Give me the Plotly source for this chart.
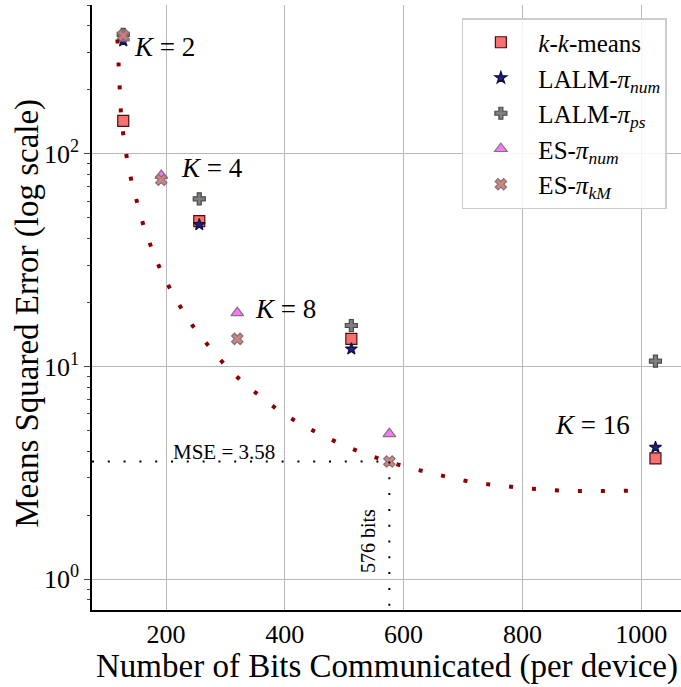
import numpy as np
import plotly.graph_objects as go

# Communication cost (bits per device) for K = 2, 4, 8, 16
bits_kkm = [128, 256, 512, 1024]      # k-k-means and LALM variants
bits_es = [128, 192, 320, 576]        # ES variants

# Mean squared error per method
mse_kkmeans = [143, 48.3, 13.5, 3.70]
mse_lalm_num = [340, 46.5, 12.1, 4.17]
mse_lalm_ps = [365, 61.5, 15.6, 10.6]
mse_es_num = [350, 79.1, 17.9, 4.83]
mse_es_km = [360, 75.5, 13.5, 3.58]

# Trade-off curve (bits vs. MSE)
curve_bits = [118.2, 118.6, 119.1, 120.8, 124.2, 128.7, 134.8, 142.7, 152.3, 163.4,
              176.9, 192.1, 210.1, 230.3, 252.2, 277.0, 302.3, 331.4, 361.8, 393.3,
              427.0, 462.3, 497.7, 534.1, 571.9, 608.9, 644.8, 681.9, 724.0, 764.5,
              804.9, 845.3, 885.8, 926.2, 965.0, 1000.0]
curve_mse = [345, 326, 253, 197, 153, 119, 93.0, 72.5, 56.7, 44.6,
             35.3, 27.9, 22.3, 17.9, 14.5, 12.0, 9.93, 8.32, 7.10, 6.10,
             5.36, 4.76, 4.28, 3.89, 3.59, 3.34, 3.17, 2.99, 2.83, 2.74,
             2.68, 2.63, 2.60, 2.60, 2.60, 2.63]

# Highlighted operating point
ref_bits = 576
ref_mse = 3.58

k_labels = ["<i>K</i> = 2", "<i>K</i> = 4", "<i>K</i> = 8", "<i>K</i> = 16"]
y_tickvals = [1, 10, 100]
y_ticktext = ["10<sup>0</sup>", "10<sup>1</sup>", "10<sup>2</sup>"]
x_tickvals = [200, 400, 600, 800, 1000]

FONT = "Liberation Serif"
XR = [75.4, 1067.0]
YR = [-0.1444, 2.70]

fig = go.Figure()

series = [
    ("<i>k</i>-<i>k</i>-means", bits_kkm, mse_kkmeans, "square", 11,
     "rgba(250,95,95,0.9)", "#4a1010"),
    ("LALM-<i>π</i><sub><i>num</i></sub>", bits_kkm, mse_lalm_num, "star", 9,
     "#1c1c9c", "#101030"),
    ("LALM-<i>π</i><sub><i>ps</i></sub>", bits_kkm, mse_lalm_ps, "cross", 10,
     "rgba(120,120,120,0.95)", "#4a4a4a"),
    ("ES-<i>π</i><sub><i>num</i></sub>", bits_es, mse_es_num, "triangle-up", 11,
     "rgba(238,120,238,0.95)", "#8a6a8a"),
    ("ES-<i>π</i><sub><i>kM</i></sub>", bits_es, mse_es_km, "x", 10,
     "rgba(200,128,128,0.95)", "#8a7070"),
]
for name, xs, ys, sym, size, fill, edge in series:
    fig.add_trace(go.Scatter(
        x=xs, y=ys, mode="markers", name=name,
        marker=dict(symbol=sym, size=size, color=fill,
                    line=dict(color=edge, width=1.2)),
    ))

# dotted trade-off curve
fig.add_trace(go.Scatter(
    x=curve_bits, y=curve_mse, mode="lines", showlegend=False,
    line=dict(color="#8b0000", width=4, dash="4px,19px"),
))

# guide lines to the highlighted point
fig.add_trace(go.Scatter(
    x=[XR[0], ref_bits], y=[ref_mse, ref_mse], mode="lines", showlegend=False,
    line=dict(color="black", width=2, dash="2px,13.8px"),
))
fig.add_trace(go.Scatter(
    x=[ref_bits, ref_bits], y=[ref_mse, 10 ** YR[0]], mode="lines", showlegend=False,
    line=dict(color="black", width=2, dash="2px,13.8px"),
))

ann = []
k_pos = [(142.0, 318), (222.0, 85.5), (346.0, 18.7), (852.0, 5.31)]
for txt, (ax, ay) in zip(k_labels, k_pos):
    ann.append(dict(x=ax, y=np.log10(ay), text=txt, showarrow=False,
                    xanchor="left", yanchor="middle",
                    font=dict(family=FONT, size=27, color="black")))
ann.append(dict(x=208.0, y=np.log10(3.95), text=f"MSE = {ref_mse:.2f}", showarrow=False,
                xanchor="left", yanchor="middle",
                font=dict(family=FONT, size=21, color="black")))
ann.append(dict(x=539.2, y=np.log10(1.52), text=f"{ref_bits} bits", showarrow=False,
                textangle=-90, xanchor="center", yanchor="middle",
                font=dict(family=FONT, size=20, color="black")))
# axis titles
ann.append(dict(xref="paper", yref="paper", x=0.5, y=-0.093,
                text="Number of Bits Communicated (per device)", showarrow=False,
                xanchor="center", yanchor="middle",
                font=dict(family=FONT, size=33, color="black")))
ann.append(dict(xref="paper", yref="paper", x=-0.109, y=0.491,
                text="Means Squared Error (log scale)", showarrow=False, textangle=-90,
                xanchor="center", yanchor="middle",
                font=dict(family=FONT, size=33, color="black")))

minor_vals = [0.8, 0.9] + [m * d for d in (1, 10) for m in range(2, 10)] + [200, 300, 400, 500]

fig.update_layout(
    width=681, height=687, autosize=False,
    margin=dict(l=92, r=0, t=5, b=77, pad=0),
    paper_bgcolor="white", plot_bgcolor="white",
    font=dict(family=FONT, size=26, color="black"),
    annotations=ann,
    legend=dict(
        x=0.976, y=0.9785, xanchor="right", yanchor="top",
        bgcolor="rgba(255,255,255,0.85)", bordercolor="#cccccc", borderwidth=1.5,
        font=dict(family=FONT, size=25, color="black"),
        itemwidth=65, tracegroupgap=0,
    ),
    xaxis=dict(
        range=XR, tickmode="array", tickvals=x_tickvals,
        showgrid=True, gridcolor="#b8b8b8", gridwidth=1.3,
        showline=True, linecolor="black", linewidth=1.5, mirror=False,
        zeroline=False, ticks="", tickfont=dict(family=FONT, size=26),
    ),
    yaxis=dict(
        type="log", range=YR, tickmode="array", tickvals=y_tickvals, ticktext=y_ticktext,
        showgrid=True, gridcolor="#b8b8b8", gridwidth=1.3,
        showline=True, linecolor="black", linewidth=1.5, mirror=False,
        zeroline=False, ticks="outside", ticklen=6, tickwidth=1.3,
        tickfont=dict(family=FONT, size=26),
        minor=dict(tickmode="array", tickvals=minor_vals, ticks="outside",
                   ticklen=3.5, tickwidth=1, showgrid=False),
    ),
)

fig.write_html("out.html")
